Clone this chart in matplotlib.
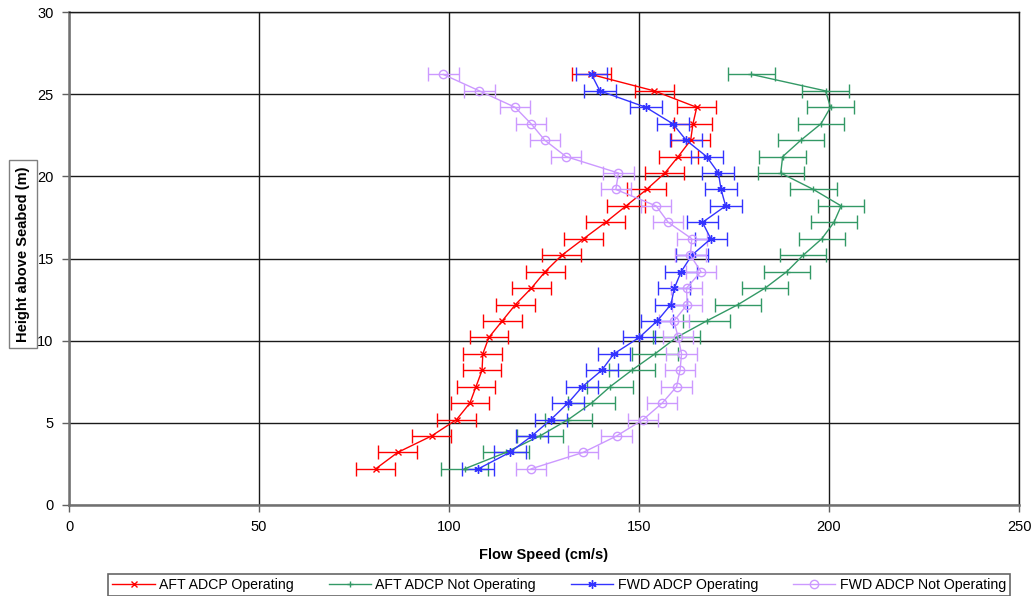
import numpy as np
import matplotlib
matplotlib.use("Agg")
import matplotlib.pyplot as plt
from matplotlib.lines import Line2D

plt.rcParams['font.family'] = ['Liberation Sans', 'DejaVu Sans']

# Heights of the measurement bins (m above seabed)
height = [2.2, 3.2, 4.2, 5.2, 6.2, 7.2, 8.2, 9.2, 10.2, 11.2, 12.2, 13.2, 14.2,
          15.2, 16.2, 17.2, 18.2, 19.2, 20.2, 21.2, 22.2, 23.2, 24.2, 25.2, 26.2]

# Mean flow speed (cm/s) per bin
aft_on = [80.7, 86.5, 95.4, 102.0, 105.5, 107.1, 108.7, 108.9, 110.5, 114.0, 117.5,
          121.7, 125.3, 129.7, 135.4, 141.2, 146.6, 152.0, 156.8, 160.3, 163.6,
          164.2, 165.2, 154.0, 137.4]
aft_off = [104.1, 115.0, 123.9, 131.4, 137.5, 142.4, 148.1, 154.2, 159.9, 167.8,
           176.1, 183.2, 188.9, 193.2, 198.1, 201.3, 203.2, 195.9, 187.3, 187.8,
           192.6, 197.9, 200.4, 199.1, 179.6]
fwd_on = [107.7, 116.0, 121.8, 126.8, 131.3, 135.1, 140.2, 143.4, 150.1, 154.8,
          158.4, 159.3, 161.1, 163.9, 168.9, 166.7, 172.8, 171.6, 170.9, 167.8,
          162.4, 158.9, 151.8, 139.7, 137.5]
fwd_off = [121.6, 135.3, 144.1, 151.1, 156.1, 159.9, 160.8, 161.2, 160.3, 159.2,
           162.7, 162.5, 166.3, 163.5, 163.9, 157.7, 154.5, 143.9, 144.6, 130.8,
           125.2, 121.6, 117.4, 108.0, 98.5]

# Error bar half-widths (cm/s)
aft_on_err = 5.1
aft_off_err = 6.1
fwd_on_err = 4.2
fwd_off_err = 4.0

series = [
    ("AFT ADCP Operating", aft_on, aft_on_err, "#FF0000", "x", 5),
    ("AFT ADCP Not Operating", aft_off, aft_off_err, "#339966", "+", 5),
    ("FWD ADCP Operating", fwd_on, fwd_on_err, "#3333FF", (6, 2, 0), 6),
    ("FWD ADCP Not Operating", fwd_off, fwd_off_err, "#CC99FF", "o", 6),
]

fig = plt.figure(figsize=(10.35, 5.96), dpi=100)
ax = fig.add_axes([69 / 1035, 91 / 596, 950 / 1035, 493 / 596])

handles = []
for label, speed, err, col, mk, ms in series:
    face = 'none' if mk == 'o' else col
    ax.errorbar(speed, height, xerr=err, color=col, lw=1.0, marker=mk, ms=ms,
                mfc=face, mec=col, mew=1.0,
                elinewidth=1.0, capsize=5, capthick=1.0, zorder=3)
    handles.append(Line2D([], [], color=col, lw=1.0, marker=mk, ms=ms,
                          mfc=face, mec=col, mew=1.0, label=label))

ax.set_xlim(0, 250)
ax.set_ylim(0, 30)
ax.set_xticks(np.arange(0, 251, 50))
ax.set_yticks(np.arange(0, 31, 5))
ax.grid(True, color='#1a1a1a', lw=1.0, zorder=1)
ax.set_axisbelow(True)

for side in ['left', 'bottom']:
    ax.spines[side].set_color('#707070')
    ax.spines[side].set_linewidth(1.8)
for side in ['top', 'right']:
    ax.spines[side].set_color('#1a1a1a')
    ax.spines[side].set_linewidth(1.0)

ax.tick_params(direction='out', length=5, width=1.0, color='#606060',
               labelsize=10.5, pad=6)

ax.set_xlabel("Flow Speed (cm/s)", fontsize=10.5, fontweight='bold', labelpad=10)
fig.text(23 / 1035, 1 - 254 / 596, "Height above Seabed (m)", rotation=90,
         fontsize=10.5, fontweight='bold', ha='center', va='center',
         bbox=dict(boxstyle='square,pad=0.45', fc='white', ec='#808080', lw=1.0))

leg = fig.legend(handles=handles, loc='lower left',
                 bbox_to_anchor=(108 / 1035, 0.0, 902 / 1035, 26 / 596),
                 mode='expand', ncol=4, fontsize=10.2, frameon=True, fancybox=False,
                 edgecolor='#404040', handlelength=3.0, handletextpad=0.3,
                 borderpad=0.3, borderaxespad=0.0)
leg.get_frame().set_linewidth(1.2)

fig.savefig("out.png", dpi=100)
